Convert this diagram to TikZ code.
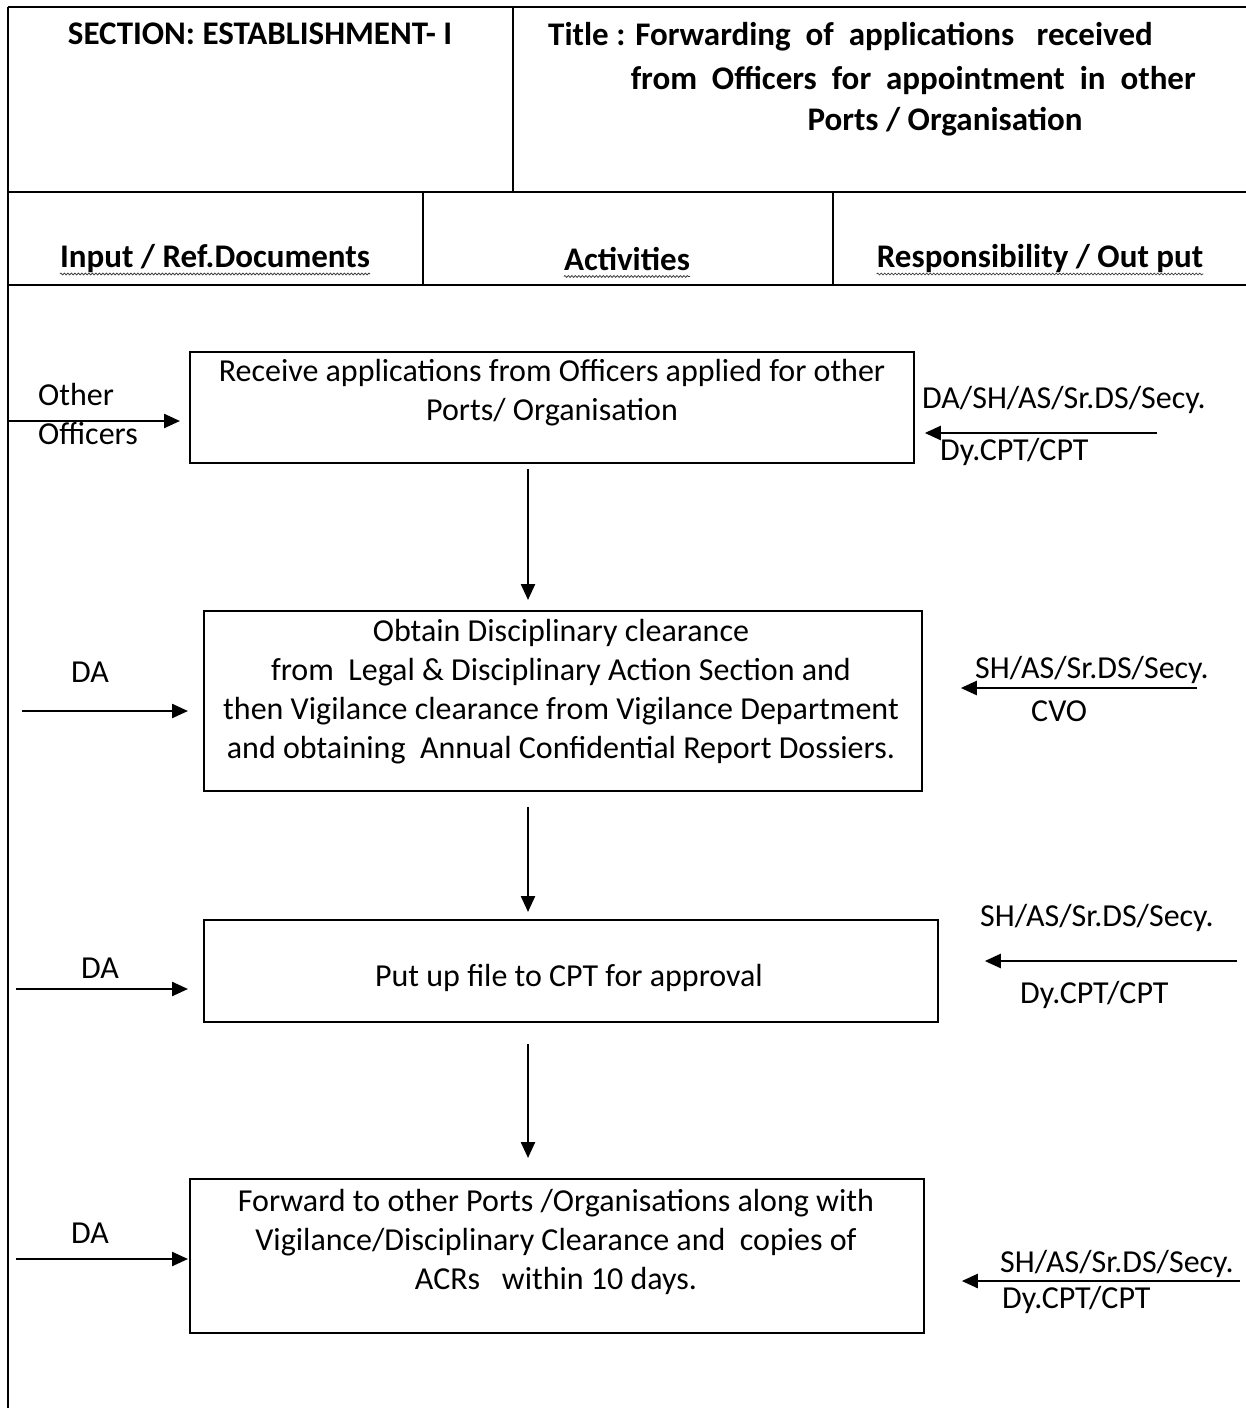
\documentclass[tikz,border=0pt]{standalone}
\usepackage{fontspec}
\setmainfont{Carlito}
\usetikzlibrary{arrows.meta, positioning, calc, decorations.pathmorphing}

\begin{document}
\begin{tikzpicture}[
  x=1pt, y=-1pt,
  every node/.style={font=\fontsize{32}{39}\selectfont, inner sep=0pt},
  frame/.style={line width=2.6pt},
  actbox/.style={draw, line width=1.8pt, anchor=north west},
  flow/.style={line width=2.4pt, -{Triangle[length=16pt, width=14pt]}},
  headtext/.style={font=\fontsize{33}{42}\selectfont\bfseries},
  wavy/.style={decorate, decoration={snake, amplitude=0.9pt, segment length=3.5pt}, line width=0.8pt, black!75},
]
\useasboundingbox (0,0) rectangle (1246,1408);

% table frame
\draw[frame] (8,7) -- (1246,7);
\draw[frame] (8,7) -- (8,1408);
\draw[frame] (513,7) -- (513,192);
\draw[frame] (8,192) -- (1246,192);
\draw[frame] (423,192) -- (423,285);
\draw[frame] (833,192) -- (833,285);
\draw[frame] (8,285) -- (1246,285);

\node[headtext] (sec) at (260,34) {SECTION: ESTABLISHMENT- I};
\node[headtext, anchor=west] (title1) at (548,37) {Title : Forwarding\ \ of\ \ applications\ \ \ received};
\node[headtext, anchor=east] (title2) at (1196,80) {from\ \ Officers\ \ for\ \ appointment\ \ in\ \ other};
\node[headtext] (title3) at (945,122) {Ports / Organisation};

\node[headtext] (h1) at (215,259) {Input / Ref.Documents};
\node[headtext] (h2) at (627,259) {Activities};
\node[headtext] (h3) at (1040,259) {Responsibility / Out put};
\foreach \h in {h1,h2,h3}
  \draw[wavy] ($(\h.base west)+(0,6)$) -- ($(\h.base east)+(0,6)$);

% activity boxes
\node[actbox, minimum width=724pt, minimum height=111pt] (b1) at (189,351) {};
\node[actbox, minimum width=718pt, minimum height=180pt] (b2) at (203,610) {};
\node[actbox, minimum width=734pt, minimum height=102pt] (b3) at (203,919) {};
\node[actbox, minimum width=734pt, minimum height=154pt] (b4) at (189,1178) {};

\node[align=center] (t1) at (552,393) {Receive applications from Officers applied for other\\Ports/ Organisation};
\node[align=center] (t2) at (561,692) {Obtain Disciplinary clearance\\from\ \ Legal \& Disciplinary Action Section and\\then Vigilance clearance from Vigilance Department\\and obtaining\ \ Annual Confidential Report Dossiers.};
\node (t3) at (569,978) {Put up file to CPT for approval};
\node[align=center] (t4) at (556,1242) {Forward to other Ports /Organisations along with\\Vigilance/Disciplinary Clearance and\ \ copies of\\ACRs\ \ \ within 10 days.};

\coordinate (mid) at (528,0);
\draw[flow, shorten <=5pt, shorten >=10pt] (b1.south -| mid) -- (b2.north -| mid);
\draw[flow, shorten <=15pt, shorten >=7pt] (b2.south -| mid) -- (b3.north -| mid);
\draw[flow, shorten <=21pt, shorten >=20pt] (b3.south -| mid) -- (b4.north -| mid);

% inputs
\coordinate (in1) at (8,421);
\coordinate (in2) at (22,711);
\coordinate (in3) at (16,989);
\coordinate (in4) at (16,1259);
\draw[flow, shorten >=9pt] (in1) -- (in1 -| b1.west);
\draw[flow, shorten >=15pt] (in2) -- (in2 -| b2.west);
\draw[flow, shorten >=15pt] (in3) -- (in3 -| b3.west);
\draw[flow, shorten >=1pt] (in4) -- (in4 -| b4.west);

\node[align=left, anchor=west] (src1) at (38,414) {Other\\Officers};
\node (src2) at (90,672) {DA};
\node (src3) at (100,968) {DA};
\node (src4) at (90,1233) {DA};

% responsibilities
\coordinate (out1) at (1157,433);
\coordinate (out2) at (1197,688);
\coordinate (out3) at (1237,961);
\coordinate (out4) at (1240,1281);
\draw[flow, shorten >=10pt] (out1) -- (out1 -| b1.east);
\draw[flow, shorten >=38pt] (out2) -- (out2 -| b2.east);
\draw[flow, shorten >=46pt] (out3) -- (out3 -| b3.east);
\draw[flow, shorten >=37pt] (out4) -- (out4 -| b4.east);

\node[anchor=west] (r1a) at (922,400) {DA/SH/AS/Sr.DS/Secy.};
\node[anchor=west] (r1b) at (940,452) {Dy.CPT/CPT};
\node[anchor=west] (r2a) at (975,670) {SH/AS/Sr.DS/Secy.};
\node[anchor=west] (r2b) at (1031,711) {CVO};
\node[anchor=west] (r3a) at (980,918) {SH/AS/Sr.DS/Secy.};
\node[anchor=west] (r3b) at (1020,995) {Dy.CPT/CPT};
\node[anchor=west] (r4a) at (1000,1264) {SH/AS/Sr.DS/Secy.};
\node[anchor=west] (r4b) at (1002,1300) {Dy.CPT/CPT};
\end{tikzpicture}
\end{document}
